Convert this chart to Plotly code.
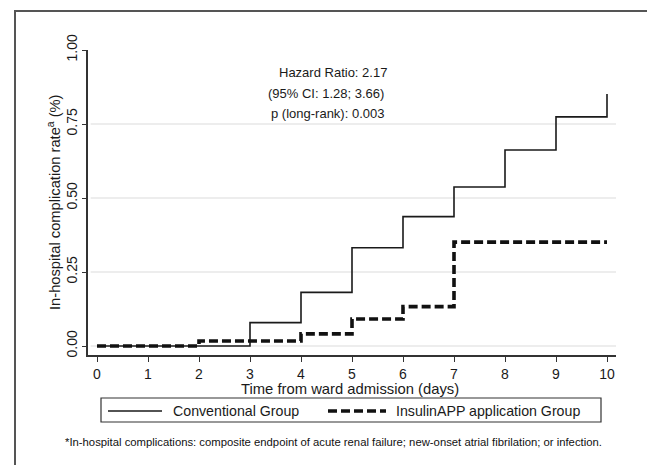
import plotly.graph_objects as go

# ---------------- data ----------------
conv_days = [0, 3, 4, 5, 6, 7, 8, 9, 10]
conv_rate = [0.0, 0.079, 0.181, 0.332, 0.437, 0.537, 0.662, 0.774, 0.851]

app_days = [0, 2, 4, 5, 6, 7, 10]
app_rate = [0.0, 0.017, 0.041, 0.091, 0.133, 0.351, 0.351]

series_names = ["Conventional Group", "InsulinAPP application Group"]
x_ticks = list(range(0, 11))
y_ticks = [0.0, 0.25, 0.50, 0.75, 1.00]
y_tick_text = ["0.00", "0.25", "0.50", "0.75", "1.00"]
grid_vals = [0.0, 0.25, 0.50, 0.75]
stats_lines = ["Hazard Ratio: 2.17", "(95% CI: 1.28; 3.66)", "p (long-rank): 0.003"]
footnote = ("*In-hospital complications: composite endpoint of acute renal failure; "
            "new-onset atrial fibrilation; or infection.")

# ---------------- geometry ----------------
O = 8  # page body margin offset
W, H = 655 - O, 465 - O
L, R, T, B = 88 - O, 616 - O, 50 - O, 355 - O  # plot area in figure px
FONT = "Liberation Sans, Arial, sans-serif"


def px(xp):
    return (xp - O - L) / (R - L)


def py(yp):
    return (B - (yp - O)) / (B - T)


fig = go.Figure()

fig.add_trace(go.Scatter(
    x=conv_days, y=conv_rate, mode="lines", line_shape="hv",
    line=dict(color="#1a1a1a", width=1.6), name=series_names[0], showlegend=False))
fig.add_trace(go.Scatter(
    x=app_days, y=app_rate, mode="lines", line_shape="hv",
    line=dict(color="#111111", width=3.6, dash="9px,4px"), name=series_names[1],
    showlegend=False))

shapes = []
for g in grid_vals:
    shapes.append(dict(type="line", xref="paper", yref="y", x0=0.005, x1=1, y0=g, y1=g,
                       line=dict(color="#dcdcdc", width=1.2), layer="below"))
# outer frame
shapes.append(dict(type="rect", xref="paper", yref="paper",
                   x0=px(15), x1=px(720), y0=py(11), y1=py(520),
                   line=dict(color="#555555", width=2), fillcolor="rgba(0,0,0,0)"))
# legend box
shapes.append(dict(type="rect", xref="paper", yref="paper",
                   x0=px(101), x1=px(601), y0=py(398), y1=py(422),
                   line=dict(color="#333333", width=1.2), fillcolor="rgba(0,0,0,0)"))
shapes.append(dict(type="line", xref="paper", yref="paper",
                   x0=px(108), x1=px(162), y0=py(411), y1=py(411),
                   line=dict(color="#1a1a1a", width=1.6)))
shapes.append(dict(type="line", xref="paper", yref="paper",
                   x0=px(328), x1=px(386), y0=py(411), y1=py(411),
                   line=dict(color="#111111", width=3.6, dash="9px,4px")))

annotations = []
centers = [333, 326, 327]
ys = [73, 93, 113]
for t, cx, cy in zip(stats_lines, centers, ys):
    annotations.append(dict(text=t, x=px(cx), y=py(cy), xref="paper", yref="paper",
                            showarrow=False, xanchor="center", yanchor="middle",
                            font=dict(size=13, color="#1a1a1a", family=FONT)))
annotations.append(dict(text=series_names[0], x=px(171), y=py(411), xref="paper", yref="paper",
                        showarrow=False, xanchor="left", yanchor="middle",
                        font=dict(size=14.2, color="#1a1a1a", family=FONT)))
annotations.append(dict(text=series_names[1], x=px(394), y=py(411), xref="paper", yref="paper",
                        showarrow=False, xanchor="left", yanchor="middle",
                        font=dict(size=14.2, color="#1a1a1a", family=FONT)))
annotations.append(dict(text=footnote, x=px(63), y=py(442), xref="paper", yref="paper",
                        showarrow=False, xanchor="left", yanchor="middle",
                        font=dict(size=11.3, color="#111111", family=FONT)))
annotations.append(dict(text="Time from ward admission (days)", x=px(350), y=py(389),
                        xref="paper", yref="paper", showarrow=False, xanchor="center",
                        yanchor="middle", font=dict(size=14.8, color="#1a1a1a", family=FONT)))
annotations.append(dict(text="In-hospital complication rate<sup>a</sup> (%)", x=px(54), y=py(202),
                        xref="paper", yref="paper", showarrow=False, xanchor="center",
                        yanchor="middle", textangle=-90,
                        font=dict(size=14.7, color="#1a1a1a", family=FONT)))

fig.update_layout(
    width=W, height=H,
    margin=dict(l=L, r=W - R, t=T, b=H - B, pad=0),
    paper_bgcolor="white", plot_bgcolor="white",
    font=dict(family=FONT, color="#1a1a1a"),
    shapes=shapes, annotations=annotations,
    showlegend=False,
)
fig.update_xaxes(
    range=[-9 / 51, 10 + 9 / 51], tickmode="array", tickvals=x_ticks,
    ticks="outside", ticklen=5, tickwidth=1.2, tickcolor="#333333",
    showline=True, linecolor="#333333", linewidth=1.5, showgrid=False, zeroline=False,
    tickfont=dict(size=14, color="#1a1a1a"),
)
fig.update_yaxes(
    range=[-9 / 296, 1.0], tickmode="array", tickvals=y_ticks, ticktext=y_tick_text,
    ticks="outside", ticklen=4, tickwidth=1.2, tickcolor="#333333", tickangle=-90,
    showline=True, linecolor="#333333", linewidth=1.5, showgrid=False, zeroline=False,
    tickfont=dict(size=14, color="#1a1a1a"),
)

fig.write_html("out.html")
